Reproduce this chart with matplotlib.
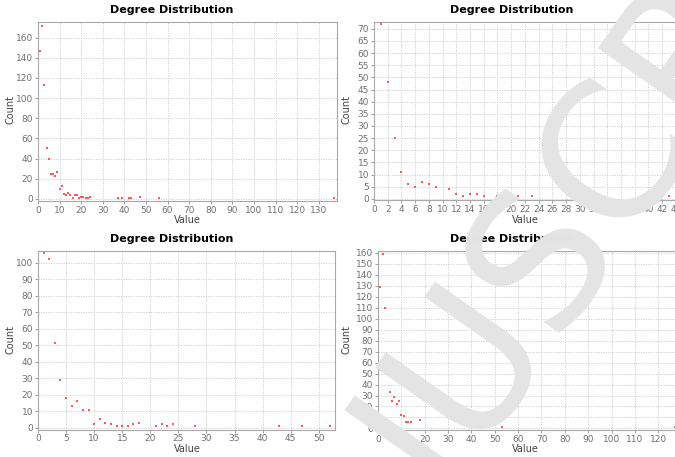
import matplotlib
matplotlib.use("Agg")
import matplotlib.pyplot as plt

# ---- data ----
deg_a = [1, 2, 3, 4, 5, 6, 7, 8, 9, 10, 11, 12, 13, 14, 15, 16, 17, 18, 19, 20,
         21, 22, 23, 24, 37, 39, 42, 43, 47, 56, 137]
cnt_a = [147, 172, 113, 51, 40, 25, 25, 23, 27, 10, 13, 5, 4, 6, 4, 1, 4, 4, 1, 2,
         2, 1, 1, 2, 1, 1, 1, 1, 2, 1, 1]

deg_b = [1, 2, 3, 4, 5, 6, 7, 8, 9, 11, 12, 13, 14, 15, 16, 18, 21, 23, 39, 43]
cnt_b = [72, 48, 25, 11, 6, 5, 7, 6, 5, 4, 2, 1, 2, 2, 1, 1, 1, 1, 1, 1]

deg_c = [1, 2, 3, 4, 5, 6, 7, 8, 9, 10, 11, 12, 13, 14, 15, 16, 17, 18, 21, 22,
         23, 24, 28, 43, 47, 52]
cnt_c = [106, 102, 51, 29, 18, 13, 16, 11, 11, 2, 5, 3, 2, 1, 1, 1, 2, 3, 1, 2,
         1, 2, 1, 1, 1, 1]

deg_d = [1, 2, 3, 5, 6, 7, 8, 9, 10, 11, 12, 13, 14, 18, 43, 44, 53, 127]
cnt_d = [129, 159, 110, 33, 25, 29, 22, 25, 12, 11, 6, 6, 6, 8, 2, 1, 1, 1]

W, H = 675, 457
fig = plt.figure(figsize=(W / 100, H / 100), dpi=100)
fig.patch.set_facecolor("white")


def px_axes(l, r, t, b):
    return fig.add_axes([l / W, 1 - b / H, (r - l) / W, (b - t) / H])


# panel box (px), x limits, y limits, tick steps, title / label centres (px)
panels = [
    (deg_a, cnt_a, (38, 337, 22, 201), (0, 138.4), (-2, 175.5), 10, 20, (172, 10), (187, 220), (11, 110)),
    (deg_b, cnt_b, (374, 680, 22, 200), (0, 44.6), (-0.5, 72.8), 2, 5, (512, 10), (525, 220), (346, 110)),
    (deg_c, cnt_c, (38, 335, 251, 429.5), (0, 52.9), (-1.1, 107), 5, 10, (172, 239), (187, 449), (11, 340)),
    (deg_d, cnt_d, (378, 680, 251, 430), (0, 129.3), (-1.4, 161.6), 10, 10, (512, 239), (525, 449), (346, 340)),
]

for x, y, box, xl, yl, xs, ys, tpos, xlpos, ylpos in panels:
    ax = px_axes(*box)
    ax.set_facecolor("white")
    ax.scatter(x, y, s=3, marker="s", color="#ff5a5a", linewidths=0, zorder=3)
    ax.set_xlim(*xl)
    ax.set_ylim(*yl)
    ax.set_xticks(range(0, int(xl[1]) + 1, xs))
    ax.set_yticks(range(0, int(yl[1]) + 1, ys))
    ax.grid(True, color="#cccccc", linestyle=(0, (1.5, 1.5)), linewidth=0.6)
    ax.set_axisbelow(True)
    for s in ax.spines.values():
        s.set_color("#a8a8a8")
        s.set_linewidth(0.8)
    ax.tick_params(labelsize=6.5, colors="#909090", labelcolor="#707070", length=2, width=0.6, pad=1.5)
    fig.text(tpos[0] / W, 1 - tpos[1] / H, "Degree Distribution", ha="center", va="center",
             fontsize=8, fontweight="bold", color="black")
    fig.text(xlpos[0] / W, 1 - xlpos[1] / H, "Value", ha="center", va="center",
             fontsize=7, color="#444444")
    fig.text(ylpos[0] / W, 1 - ylpos[1] / H, "Count", ha="center", va="center",
             fontsize=7, color="#444444", rotation=90)

# diagonal watermark laid over the page
fig.text(535 / W, 1 - 262 / H, "MANUSCRIPT", rotation=55, rotation_mode="anchor",
         ha="center", va="center", fontsize=135, color="#e4e4e4", zorder=10)

fig.savefig("out.png", dpi=100)
